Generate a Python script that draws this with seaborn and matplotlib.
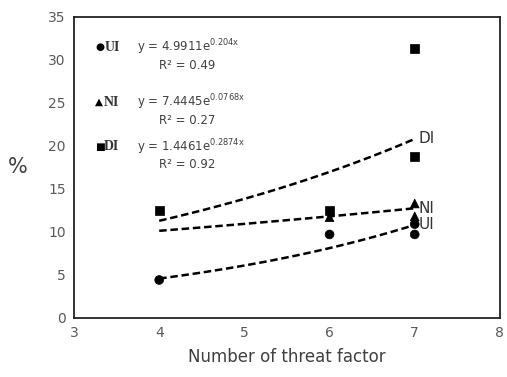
import numpy as np
import pandas as pd
import seaborn as sns
import matplotlib.pyplot as plt

ui_x = [4, 6, 7, 7]
ui_y = [4.4, 9.7, 9.7, 10.9]
ni_x = [6, 7, 7]
ni_y = [11.7, 13.3, 11.8]
di_x = [4, 6, 7, 7]
di_y = [12.5, 12.5, 18.8, 31.3]

# trendline coefficients as printed on the chart (a * e^(b x))
eq_labels = ['UI', 'NI', 'DI']
eq_a = [4.9911, 7.4445, 1.4461]
eq_b = [0.204, 0.0768, 0.2874]
eq_r2 = [0.49, 0.27, 0.92]
# end-of-line label that each curve carries in the picture
curve_end = ['DI', 'NI', 'UI']

sns.set_theme(style='white')
plt.rcParams['font.family'] = ['DejaVu Sans']

pts = pd.concat([
    pd.DataFrame({'x': ui_x, 'y': ui_y, 'grp': 'UI'}),
    pd.DataFrame({'x': ni_x, 'y': ni_y, 'grp': 'NI'}),
    pd.DataFrame({'x': di_x, 'y': di_y, 'grp': 'DI'}),
])

fig = plt.figure(figsize=(5.07, 3.77), dpi=100)
ax = fig.add_axes([0.146, 0.157, 0.840, 0.798])

# trend curves over the data range
xs = np.linspace(4, 7, 60)
for a, b, lab in zip(eq_a, eq_b, curve_end):
    ys = a * np.exp(b * xs)
    sns.lineplot(x=xs, y=ys, ax=ax, color='black', lw=1.8,
                 linestyle=(0, (3, 1.5)), legend=False)
    ax.text(7.05, ys[-1], lab, fontsize=11, color='#333333', va='center', ha='left')

sns.scatterplot(data=pts, x='x', y='y', style='grp',
                markers={'UI': 'o', 'NI': '^', 'DI': 's'},
                color='black', s=40, edgecolor='black', ax=ax, legend=False, zorder=3)

# equation block in the upper left
marks = {'UI': '●', 'NI': '▲', 'DI': '■'}
rows_y = [31.5, 25.1, 19.9]
for lab, a, b, r2, yy in zip(eq_labels, eq_a, eq_b, eq_r2, rows_y):
    ax.text(3.25, yy, marks[lab], fontsize=7.5, color='black', va='center', ha='left')
    ax.text(3.355, yy, lab, fontsize=10, color='#333333', va='center', ha='left',
            family='Liberation Serif', fontweight='bold')
    ax.text(3.74, yy, 'y = %se$^{\\mathrm{%sx}}$' % (a, b), fontsize=8.5,
            color='#404040', va='center', ha='left')
    ax.text(4.0, yy - 2.1, 'R² = %.2f' % r2, fontsize=8.5,
            color='#404040', va='center', ha='left')

ax.set_xlim(3, 8)
ax.set_ylim(0, 35)
ax.set_xticks(range(3, 9))
ax.set_yticks(range(0, 36, 5))
ax.tick_params(length=0, labelsize=10, labelcolor='#595959', pad=6)
ax.set_xlabel('Number of threat factor', fontsize=12, color='#404040', labelpad=6)
ax.set_ylabel('%', fontsize=15, color='#404040', rotation=0, labelpad=22, va='center')
for sp in ax.spines.values():
    sp.set_color('#222222')
    sp.set_linewidth(1.3)

fig.savefig('out.png', dpi=100)
